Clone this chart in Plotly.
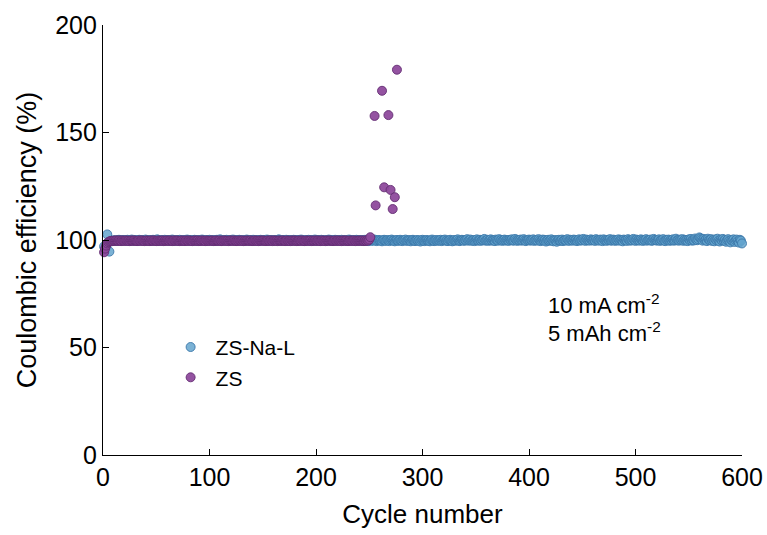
import plotly.graph_objects as go

# Coulombic efficiency (%) per cycle, ZS-Na-L electrolyte, cycles 1-600
zs_na_l_ce = [
    97.0, 95.2, 96.8, 102.6, 98.9, 94.6, 99.3, 99.6, 99.8, 99.7, 99.9, 99.8, 99.6, 99.9, 100.1, 99.8, 99.7, 99.9, 100.0, 99.8,
    99.9, 99.7, 100.1, 99.8, 99.6, 99.9, 100.2, 99.8, 99.7, 100.0, 99.9, 99.6, 99.8, 100.1, 99.9, 99.7, 100.0, 99.8, 99.9, 100.2,
    99.7, 99.9, 99.8, 100.0, 99.6, 99.9, 100.1, 99.8, 99.7, 99.9, 100.3, 99.8, 99.6, 99.9, 100.0, 99.8, 99.7, 100.1, 99.9, 99.8,
    100.0, 99.7, 99.9, 99.8, 100.2, 99.9, 99.6, 99.8, 100.0, 99.9, 99.7, 100.1, 99.8, 99.9, 99.6, 100.0, 99.8, 99.9, 100.2, 99.7,
    99.9, 99.8, 100.0, 99.7, 99.9, 100.1, 99.8, 99.6, 99.9, 100.0, 99.8, 99.7, 100.2, 99.9, 99.8, 100.0, 99.7, 99.9, 99.8, 100.1,
    99.8, 99.9, 99.7, 100.0, 99.9, 99.6, 100.1, 99.8, 99.9, 100.3, 99.7, 99.8, 100.0, 99.9, 99.7, 100.1, 99.8, 99.9, 99.6, 100.0,
    99.9, 100.2, 99.8, 99.7, 99.9, 100.0, 99.8, 100.1, 99.7, 99.9, 99.8, 100.0, 99.6, 99.9, 100.2, 99.8, 99.9, 99.7, 100.0, 99.8,
    100.1, 99.9, 99.7, 99.8, 100.0, 99.9, 99.6, 100.1, 99.8, 99.9, 100.0, 99.7, 99.9, 100.2, 99.8, 99.7, 99.9, 100.0, 99.8, 99.9,
    99.7, 100.0, 99.9, 99.8, 100.3, 99.9, 99.7, 99.8, 100.0, 99.9, 99.8, 100.1, 99.6, 99.9, 100.0, 99.8, 99.9, 99.7, 100.1, 99.8,
    99.9, 99.8, 100.0, 99.7, 99.9, 100.2, 99.8, 99.9, 99.6, 100.0, 99.9, 99.8, 100.1, 99.7, 99.9, 100.0, 99.8, 99.9, 100.2, 99.7,
    99.8, 100.0, 99.9, 99.7, 100.1, 99.8, 99.9, 100.0, 99.6, 99.9, 99.8, 100.2, 99.9, 99.7, 100.0, 99.8, 99.9, 100.1, 99.8, 99.7,
    100.0, 99.9, 99.8, 100.1, 99.7, 99.9, 100.0, 99.8, 99.6, 99.9, 100.2, 99.8, 99.9, 100.0, 99.7, 99.9, 99.8, 100.1, 99.9, 99.8,
    99.7, 100.0, 99.9, 99.6, 99.8, 100.1, 99.7, 99.9, 99.5, 99.8, 100.0, 99.6, 99.9, 99.7, 100.2, 99.8, 99.5, 99.9, 100.0, 99.7,
    99.8, 99.4, 99.9, 100.1, 99.7, 99.6, 100.0, 99.8, 99.5, 99.9, 100.2, 99.7, 99.8, 99.4, 99.9, 100.0, 99.6, 99.8, 100.1, 99.7,
    99.5, 99.9, 99.8, 100.2, 99.6, 99.7, 100.0, 99.8, 99.4, 99.9, 100.1, 99.7, 99.5, 99.8, 100.0, 99.6, 99.9, 99.3, 99.8, 100.1,
    99.7, 99.5, 99.9, 100.0, 99.6, 99.8, 99.4, 99.9, 100.2, 99.7, 99.5, 99.8, 100.0, 99.6, 99.9, 99.7, 100.1, 99.5, 99.8, 99.9,
    100.2, 99.6, 99.8, 99.5, 99.9, 100.1, 99.7, 99.4, 99.8, 100.0, 99.6, 99.9, 100.3, 99.7, 99.5, 99.8, 100.1, 99.9, 99.6, 100.0,
    99.8, 100.4, 99.7, 99.9, 100.2, 99.6, 99.8, 100.0, 99.5, 99.9, 100.3, 99.7, 99.8, 100.1, 99.6, 100.0, 99.9, 100.5, 99.7, 99.8,
    100.1, 99.6, 99.9, 100.3, 99.7, 100.0, 99.8, 99.5, 100.2, 99.9, 99.7, 100.4, 99.8, 100.0, 99.6, 99.9, 100.2, 99.7, 100.0, 99.8,
    99.6, 100.1, 99.9, 100.3, 99.7, 99.8, 100.5, 99.9, 99.6, 100.0, 99.8, 100.2, 99.7, 99.9, 100.4, 99.8, 99.5, 100.0, 99.9, 100.2,
    99.7, 100.0, 99.8, 100.3, 99.6, 99.9, 100.1, 99.7, 100.4, 99.8, 99.5, 99.9, 100.2, 99.7, 100.0, 99.3, 99.8, 100.1, 99.6, 99.9,
    100.3, 99.7, 99.4, 100.0, 99.8, 99.2, 99.9, 100.1, 99.6, 99.8, 100.2, 99.5, 99.9, 100.0, 99.7, 100.4, 99.8, 99.6, 100.1, 99.9,
    99.7, 100.2, 99.8, 100.0, 99.5, 99.9, 100.3, 99.7, 100.1, 99.8, 100.5, 99.9, 99.6, 100.2, 99.8, 100.0, 99.7, 100.3, 99.9, 99.8,
    100.1, 99.6, 100.4, 99.8, 100.0, 99.7, 100.2, 99.9, 99.5, 100.3, 99.8, 100.0, 99.6, 100.1, 99.9, 100.4, 99.7, 99.8, 100.2, 99.9,
    99.6, 100.0, 99.8, 100.3, 99.7, 100.1, 99.9, 99.4, 100.2, 99.8, 100.0, 99.6, 100.4, 99.9, 99.7, 100.1, 99.8, 100.5, 99.9, 99.6,
    100.2, 99.8, 100.0, 99.7, 100.3, 99.9, 99.6, 100.1, 99.8, 100.4, 99.7, 100.0, 99.9, 100.2, 99.6, 99.8, 100.5, 99.9, 100.1, 99.7,
    99.9, 100.3, 99.6, 100.0, 99.8, 100.4, 99.7, 99.5, 100.1, 99.9, 100.2, 99.6, 100.0, 99.8, 100.3, 99.7, 99.9, 100.6, 99.8, 100.0,
    99.7, 100.2, 99.9, 100.4, 99.6, 100.1, 99.8, 100.0, 99.5, 100.3, 99.9, 100.5, 99.7, 100.1, 99.8, 100.7, 100.2, 99.9, 100.4, 101.2,
    100.8, 100.3, 99.7, 100.5, 99.9, 100.2, 99.5, 100.6, 100.0, 99.8, 100.4, 99.6, 100.1, 99.4, 100.3, 99.9, 100.6, 99.7, 99.3, 100.2,
    99.8, 100.5, 99.6, 100.1, 99.2, 99.9, 100.4, 99.7, 98.9, 100.0, 99.6, 100.3, 99.1, 99.8, 100.2, 99.5, 98.8, 100.1, 99.7, 98.4,
]
zs_na_l_cycles = list(range(1, len(zs_na_l_ce) + 1))

# Coulombic efficiency (%) per cycle, ZS electrolyte, cycles 1-251 followed by the failure region
zs_ce_stable = [
    94.3, 96.0, 97.4, 98.4, 99.0, 99.3, 99.5, 99.6, 99.5, 99.7, 99.6, 99.8, 99.7, 99.6, 99.8, 99.7, 99.5, 99.8, 99.7, 99.6,
    99.7, 99.8, 99.6, 99.7, 99.5, 99.8, 99.7, 99.6, 99.8, 99.7, 99.6, 99.5, 99.7, 99.8, 99.6, 99.7, 99.8, 99.6, 99.5, 99.7,
    99.8, 99.6, 99.7, 99.5, 99.8, 99.7, 99.6, 99.8, 99.7, 99.5, 99.6, 99.8, 99.7, 99.6, 99.7, 99.8, 99.5, 99.7, 99.6, 99.8,
    99.7, 99.6, 99.8, 99.7, 99.5, 99.7, 99.8, 99.6, 99.7, 99.8, 99.6, 99.5, 99.7, 99.8, 99.6, 99.7, 99.5, 99.8, 99.7, 99.6,
    99.8, 99.7, 99.6, 99.5, 99.7, 99.8, 99.6, 99.7, 99.8, 99.5, 99.7, 99.6, 99.8, 99.7, 99.6, 99.5, 99.8, 99.7, 99.6, 99.7,
    99.6, 99.8, 99.7, 99.5, 99.6, 99.8, 99.7, 99.6, 99.7, 99.8, 99.5, 99.7, 99.6, 99.8, 99.7, 99.6, 99.7, 99.5, 99.8, 99.7,
    99.7, 99.6, 99.8, 99.7, 99.5, 99.7, 99.6, 99.8, 99.7, 99.6, 99.8, 99.5, 99.7, 99.6, 99.8, 99.7, 99.6, 99.7, 99.8, 99.5,
    99.6, 99.7, 99.8, 99.6, 99.7, 99.5, 99.8, 99.7, 99.6, 99.8, 99.7, 99.6, 99.5, 99.7, 99.8, 99.6, 99.7, 99.8, 99.5, 99.7,
    99.8, 99.6, 99.7, 99.5, 99.8, 99.7, 99.6, 99.7, 99.8, 99.6, 99.5, 99.7, 99.8, 99.6, 99.7, 99.5, 99.8, 99.7, 99.6, 99.8,
    99.7, 99.5, 99.6, 99.8, 99.7, 99.6, 99.8, 99.7, 99.5, 99.6, 99.8, 99.7, 99.6, 99.7, 99.8, 99.5, 99.7, 99.6, 99.8, 99.7,
    99.6, 99.8, 99.7, 99.5, 99.7, 99.8, 99.6, 99.7, 99.5, 99.8, 99.7, 99.6, 99.8, 99.7, 99.6, 99.5, 99.7, 99.8, 99.6, 99.7,
    99.8, 99.6, 99.7, 99.5, 99.8, 99.7, 99.6, 99.8, 99.7, 99.5, 99.6, 99.8, 99.7, 99.6, 99.7, 99.8, 99.5, 99.7, 99.6, 99.8,
    99.7, 99.6, 99.8, 99.7, 99.5, 99.8, 99.6, 99.9, 99.7, 100.2, 101.3,
]
zs_cycles_stable = list(range(1, len(zs_ce_stable) + 1))
zs_cycles_failure = [255, 256, 262, 264, 268, 270, 272, 274, 276]
zs_ce_failure = [157.7, 116.1, 169.4, 124.5, 158.1, 123.3, 114.4, 119.9, 179.2]

zs_cycles = zs_cycles_stable + zs_cycles_failure
zs_ce = zs_ce_stable + zs_ce_failure

x_ticks = [0, 100, 200, 300, 400, 500, 600]
y_ticks = [0, 50, 100, 150, 200]

FONT = "Liberation Sans, Arial, Helvetica, sans-serif"

fig = go.Figure()
fig.add_trace(go.Scatter(
    x=zs_na_l_cycles, y=zs_na_l_ce, mode="markers", name="ZS-Na-L", cliponaxis=False,
    marker=dict(size=9, color="rgba(100,164,206,0.85)",
                line=dict(color="rgba(60,120,170,0.9)", width=1)),
))
fig.add_trace(go.Scatter(
    x=zs_cycles, y=zs_ce, mode="markers", name="ZS", cliponaxis=False,
    marker=dict(size=9, color="rgba(142,74,156,0.95)",
                line=dict(color="rgba(100,45,115,0.9)", width=1)),
))

axis_common = dict(
    showgrid=False, zeroline=False, showline=True, linecolor="black", linewidth=1.3,
    ticks="inside", ticklen=6, tickwidth=1.3, tickcolor="black",
    tickfont=dict(family=FONT, size=25, color="black"),
    mirror=False, automargin=False,
)
fig.update_xaxes(range=[0, 600], tickvals=x_ticks, **axis_common,
                 title=dict(text="Cycle number", font=dict(family=FONT, size=26, color="black"), standoff=14))
fig.update_yaxes(range=[0, 200], tickvals=y_ticks, **axis_common,
                 title=dict(text="Coulombic efficiency (%)", font=dict(family=FONT, size=27, color="black"), standoff=10))

fig.add_annotation(x=0.694, y=0.351, xref="paper", yref="paper", xanchor="left", yanchor="middle",
                   text="10 mA cm<sup>-2</sup>", showarrow=False,
                   font=dict(family=FONT, size=22, color="black"))
fig.add_annotation(x=0.694, y=0.286, xref="paper", yref="paper", xanchor="left", yanchor="middle",
                   text="5 mAh cm<sup>-2</sup>", showarrow=False,
                   font=dict(family=FONT, size=22, color="black"))

fig.update_layout(
    width=767, height=535,
    margin=dict(l=103, r=25, t=25, b=80, autoexpand=False),
    plot_bgcolor="white", paper_bgcolor="white",
    showlegend=True,
    legend=dict(x=0.098, y=0.298, xanchor="left", yanchor="top",
                font=dict(family=FONT, size=21, color="black"),
                bgcolor="rgba(0,0,0,0)", itemwidth=40),
)

fig.write_html("out.html")
